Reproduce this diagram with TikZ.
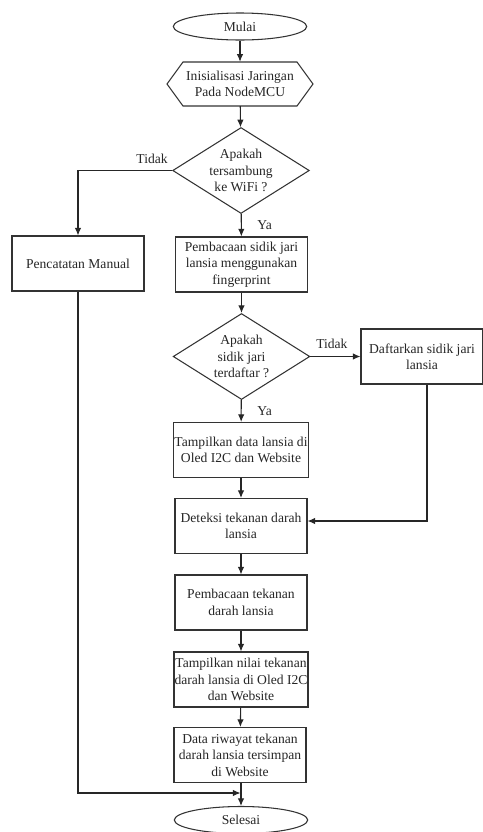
\documentclass[tikz,border=0pt]{standalone}
\usepackage{fontspec}
\setmainfont{Liberation Serif}
\usetikzlibrary{shapes.geometric,arrows.meta}

\begin{document}
\begin{tikzpicture}[x=0.03cm,y=-0.03cm,
  every node/.style={font=\fontsize{11.6}{14}\selectfont, text=black!85},
  proses/.style={draw=black!80, fill=white, line width=0.9pt, align=center,
    minimum width=3.96cm, minimum height=1.65cm, inner sep=0.5pt},
  terminal/.style={ellipse, draw=black!80, fill=white, line width=0.9pt,
    minimum width=4.0cm, minimum height=0.81cm, inner sep=0pt},
  keputusan/.style={diamond, draw=black!80, fill=white, line width=0.9pt,
    minimum width=4.1cm, minimum height=2.58cm, inner sep=0pt},
  alur/.style={-{Latex[length=6.5pt,width=5.5pt]}, line width=0.9pt, draw=black!85}]
\useasboundingbox (0,0) rectangle (483,832);

% start
\node[terminal] (mulai) at (240,26.5) {Mulai};

% inisialisasi (hexagon)
\draw[line width=0.9pt, draw=black!80] (167,84) -- (183,62) -- (297,62)
  -- (313,84) -- (297,106) -- (183,106) -- cycle;
\node[align=center, minimum width=4.38cm, minimum height=1.32cm] (init)
  at (240,84) {Inisialisasi Jaringan\\Pada NodeMCU};

% cek wifi
\node[keputusan] (wifi) at (241,170.5) {};
\node[align=center] (wifiT) at (wifi) {Apakah\\tersambung\\ke WiFi ?};

\node[proses] (manual) at (78,263.5) {Pencatatan Manual};
\node[proses] (sidik) at (241.5,264.5) {Pembacaan sidik jari\\lansia menggunakan\\fingerprint};

% cek sidik jari
\node[keputusan] (terdaftar) at (241.5,356.5) {};
\node[align=center] (terdaftarT) at (terdaftar) {Apakah\\sidik jari\\terdaftar ?};
\node[proses, minimum width=3.66cm] (daftar) at (422,356.5) {Daftarkan sidik jari\\lansia};

\node[proses] (tampil) at (241,450) {Tampilkan data lansia di\\Oled I2C dan Website};
\node[proses] (deteksi) at (241,526) {Deteksi tekanan darah\\lansia};
\node[proses] (baca) at (241,602.5) {Pembacaan tekanan\\darah lansia};
\node[proses] (nilai) at (241,679.5) {Tampilkan nilai tekanan\\darah lansia di Oled I2C\\dan Website};
\node[proses] (riwayat) at (240,755) {Data riwayat tekanan\\darah lansia tersimpan\\di Website};

% end
\node[terminal] (selesai) at (241,820) {Selesai};
\coordinate (gabung) at (240.5,793);

% connectors
\draw[alur] (mulai) -- (init);
\draw[alur] (init) -- (wifi);
\draw[alur] (wifi.west) -- node[pos=0, above left, yshift=2pt] (tidak1) {Tidak} (wifi.west -| manual.north) -- (manual.north);
\draw[alur] (wifi) -- node[right, xshift=0.35cm] (ya1) {Ya} (sidik);
\draw[alur] (sidik) -- (terdaftar);
\draw[alur] (terdaftar) -- node[above, yshift=3pt, xshift=-3pt] (tidak2) {Tidak} (daftar);
\draw[alur] (terdaftar) -- node[right, xshift=0.35cm] (ya2) {Ya} (tampil);
\draw[alur] ([xshift=0.15cm]daftar.south) |- ([yshift=0.15cm]deteksi.east);
\draw[alur] (tampil) -- (deteksi);
\draw[alur] (deteksi) -- (baca);
\draw[alur] (baca) -- (nilai);
\draw[alur] (nilai) -- (riwayat);
\draw[alur] (riwayat.south -| selesai.north) -- (selesai);
\draw[alur] (manual.south) |- (gabung);
\end{tikzpicture}
\end{document}
